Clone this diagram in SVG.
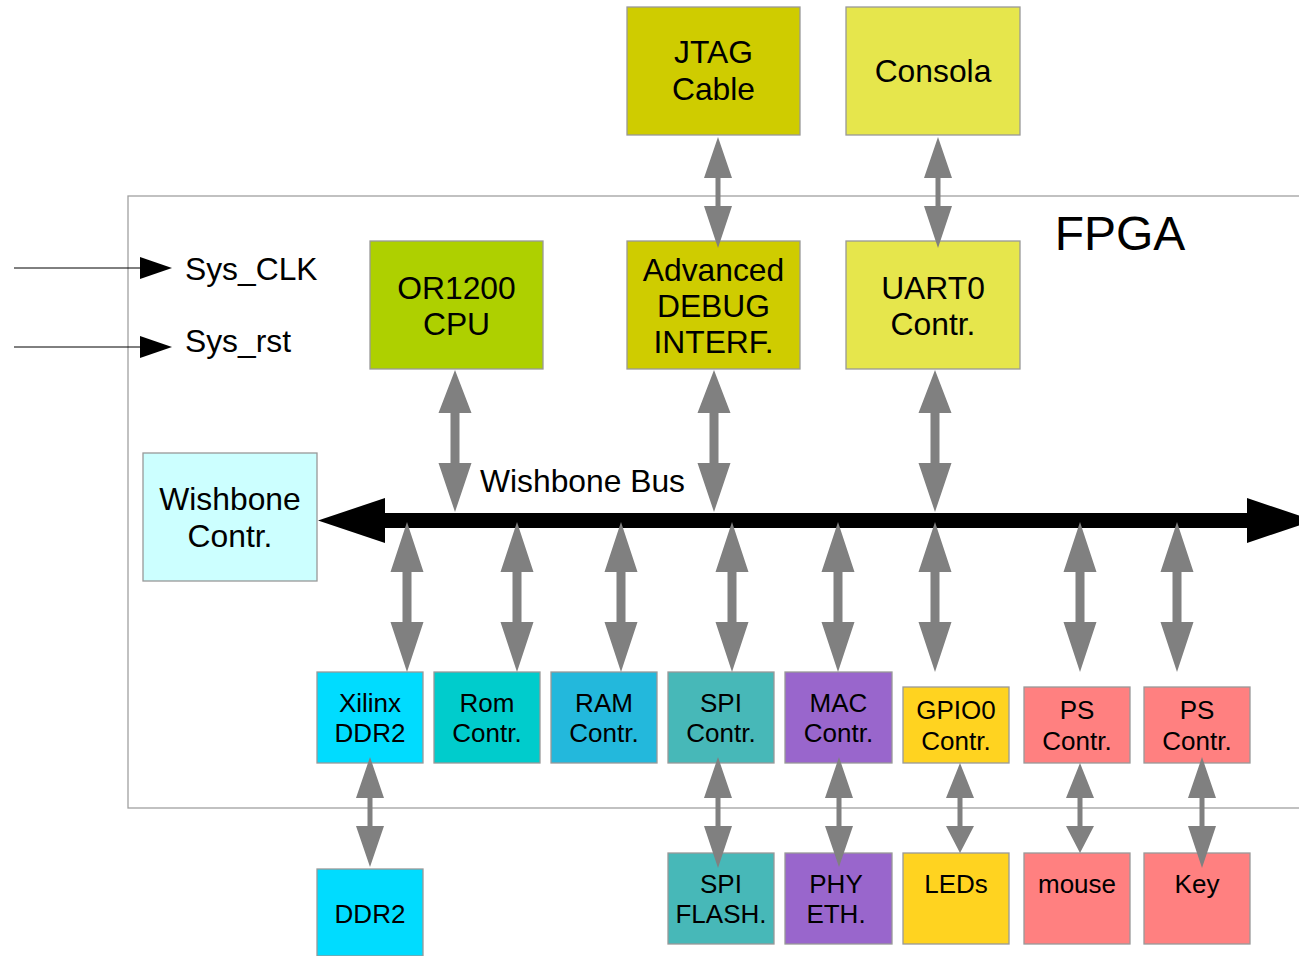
<svg xmlns="http://www.w3.org/2000/svg" width="1299" height="956" viewBox="0 0 1299 956">
<style>
text{font-family:"Liberation Sans",Arial,sans-serif;fill:#000;text-anchor:middle}
.t{font-size:31.8px}
.s{font-size:26px}
.box{stroke:#999;stroke-width:1.3}
.ga{fill:#808080}
</style>
<rect x="0" y="0" width="1299" height="956" fill="#fff"/>
<g id="fpga">
<rect x="128" y="196" width="1200" height="612" fill="none" stroke="#a0a0a0" stroke-width="1.3"/>
<text x="1120" y="250" style="font-size:48px">FPGA</text>
</g>
<g id="sys-clk">
<text x="185" y="280" class="t" style="text-anchor:start">Sys_CLK</text>
</g>
<g id="sys-rst">
<text x="185" y="352" class="t" style="text-anchor:start">Sys_rst</text>
</g>
<g id="jtag"><rect class="box" x="627" y="7" width="173" height="128" fill="#cfcc00"/>
<text class="t" x="713.5" y="63">JTAG</text><text class="t" x="713.5" y="100">Cable</text></g>
<g id="consola"><rect class="box" x="846" y="7" width="174" height="128" fill="#e6e64c"/>
<text class="t" x="933" y="82">Consola</text></g>
<g id="cpu"><rect class="box" x="370" y="241" width="173" height="128" fill="#aed000"/>
<text class="t" x="456.5" y="299">OR1200</text><text class="t" x="456.5" y="335">CPU</text></g>
<g id="debug"><rect class="box" x="627" y="241" width="173" height="128" fill="#cfcc00"/>
<text class="t" x="713.5" y="281">Advanced</text><text class="t" x="713.5" y="317">DEBUG</text><text class="t" x="713.5" y="353">INTERF.</text></g>
<g id="uart"><rect class="box" x="846" y="241" width="174" height="128" fill="#e6e64c"/>
<text class="t" x="933" y="299">UART0</text><text class="t" x="933" y="335">Contr.</text></g>
<g id="wb-contr"><rect class="box" x="143" y="453" width="174" height="128" fill="#ccffff"/>
<text class="t" x="230" y="510">Wishbone</text><text class="t" x="230" y="547">Contr.</text></g>
<g id="xilinx"><rect class="box" x="317" y="672" width="106" height="91" fill="#00dcff"/>
<text class="s" x="370" y="712">Xilinx</text><text class="s" x="370" y="742">DDR2</text></g>
<g id="rom"><rect class="box" x="434" y="672" width="106" height="91" fill="#00cccc"/>
<text class="s" x="487" y="712">Rom</text><text class="s" x="487" y="742">Contr.</text></g>
<g id="ram"><rect class="box" x="551" y="672" width="106" height="91" fill="#23b8dc"/>
<text class="s" x="604" y="712">RAM</text><text class="s" x="604" y="742">Contr.</text></g>
<g id="spi"><rect class="box" x="668" y="672" width="106" height="91" fill="#47b8b8"/>
<text class="s" x="721" y="712">SPI</text><text class="s" x="721" y="742">Contr.</text></g>
<g id="mac"><rect class="box" x="785" y="672" width="107" height="91" fill="#9966cc"/>
<text class="s" x="838.5" y="712">MAC</text><text class="s" x="838.5" y="742">Contr.</text></g>
<g id="gpio"><rect class="box" x="903" y="687" width="106" height="76" fill="#ffd320"/>
<text class="s" x="956" y="719">GPIO0</text><text class="s" x="956" y="750">Contr.</text></g>
<g id="ps1"><rect class="box" x="1024" y="687" width="106" height="76" fill="#ff8080"/>
<text class="s" x="1077" y="719">PS</text><text class="s" x="1077" y="750">Contr.</text></g>
<g id="ps2"><rect class="box" x="1144" y="687" width="106" height="76" fill="#ff8080"/>
<text class="s" x="1197" y="719">PS</text><text class="s" x="1197" y="750">Contr.</text></g>
<g id="ddr2"><rect class="box" x="317" y="869" width="106" height="87" fill="#00dcff"/>
<text class="s" x="370" y="923">DDR2</text></g>
<g id="spi-flash"><rect class="box" x="668" y="853" width="106" height="91" fill="#47b8b8"/>
<text class="s" x="721" y="893">SPI</text><text class="s" x="721" y="923">FLASH.</text></g>
<g id="phy"><rect class="box" x="785" y="853" width="107" height="91" fill="#9966cc"/>
<text class="s" x="836" y="893">PHY</text><text class="s" x="836" y="923">ETH.</text></g>
<g id="leds"><rect class="box" x="903" y="853" width="106" height="91" fill="#ffd320"/>
<text class="s" x="956" y="893">LEDs</text></g>
<g id="mouse"><rect class="box" x="1024" y="853" width="106" height="91" fill="#ff8080"/>
<text class="s" x="1077" y="893">mouse</text></g>
<g id="key"><rect class="box" x="1144" y="853" width="106" height="91" fill="#ff8080"/>
<text class="s" x="1197" y="893">Key</text></g>
<g id="connectors">
<line x1="14" y1="268" x2="140" y2="268" stroke="#000" stroke-width="1"/>
<polygon points="140,257 172,268 140,279" fill="#000"/>
<line x1="14" y1="347" x2="140" y2="347" stroke="#000" stroke-width="1"/>
<polygon points="140,336 172,347 140,358" fill="#000"/>
<g id="bus">
<rect x="380" y="513" width="875" height="15" fill="#000"/>
<polygon points="318,520.5 385,498 385,543" fill="#000"/>
<polygon points="1247,498 1314,520.5 1247,543" fill="#000"/>
<text class="t" x="582.5" y="492">Wishbone Bus</text>
</g>
<path class="ga" d="M455,370 L471.5,413 L459.5,413 L459.5,463 L471.5,463 L455,512 L438.5,463 L450.5,463 L450.5,413 L438.5,413 Z"/>
<path class="ga" d="M714,370 L730.5,413 L718.5,413 L718.5,463 L730.5,463 L714,512 L697.5,463 L709.5,463 L709.5,413 L697.5,413 Z"/>
<path class="ga" d="M935,370 L951.5,413 L939.5,413 L939.5,463 L951.5,463 L935,512 L918.5,463 L930.5,463 L930.5,413 L918.5,413 Z"/>
<path class="ga" d="M407,522 L423.5,572 L411.5,572 L411.5,622 L423.5,622 L407,672 L390.5,622 L402.5,622 L402.5,572 L390.5,572 Z"/>
<path class="ga" d="M517,522 L533.5,572 L521.5,572 L521.5,622 L533.5,622 L517,672 L500.5,622 L512.5,622 L512.5,572 L500.5,572 Z"/>
<path class="ga" d="M621,522 L637.5,572 L625.5,572 L625.5,622 L637.5,622 L621,672 L604.5,622 L616.5,622 L616.5,572 L604.5,572 Z"/>
<path class="ga" d="M732,522 L748.5,572 L736.5,572 L736.5,622 L748.5,622 L732,672 L715.5,622 L727.5,622 L727.5,572 L715.5,572 Z"/>
<path class="ga" d="M838,522 L854.5,572 L842.5,572 L842.5,622 L854.5,622 L838,672 L821.5,622 L833.5,622 L833.5,572 L821.5,572 Z"/>
<path class="ga" d="M935,522 L951.5,572 L939.5,572 L939.5,622 L951.5,622 L935,672 L918.5,622 L930.5,622 L930.5,572 L918.5,572 Z"/>
<path class="ga" d="M1080,522 L1096.5,572 L1084.5,572 L1084.5,622 L1096.5,622 L1080,672 L1063.5,622 L1075.5,622 L1075.5,572 L1063.5,572 Z"/>
<path class="ga" d="M1177,522 L1193.5,572 L1181.5,572 L1181.5,622 L1193.5,622 L1177,672 L1160.5,622 L1172.5,622 L1172.5,572 L1160.5,572 Z"/>
<path class="ga" d="M370,757 L384,798 L372.5,798 L372.5,826 L384,826 L370,867 L356,826 L367.5,826 L367.5,798 L356,798 Z"/>
<path class="ga" d="M718,757 L732,798 L720.5,798 L720.5,826 L732,826 L718,868 L704,826 L715.5,826 L715.5,798 L704,798 Z"/>
<path class="ga" d="M839,757 L853,798 L841.5,798 L841.5,826 L853,826 L839,867 L825,826 L836.5,826 L836.5,798 L825,798 Z"/>
<path class="ga" d="M960,763 L974,798 L962.5,798 L962.5,826 L974,826 L960,853 L946,826 L957.5,826 L957.5,798 L946,798 Z"/>
<path class="ga" d="M1080,763 L1094,798 L1082.5,798 L1082.5,826 L1094,826 L1080,853 L1066,826 L1077.5,826 L1077.5,798 L1066,798 Z"/>
<path class="ga" d="M1202,757 L1216,798 L1204.5,798 L1204.5,826 L1216,826 L1202,868 L1188,826 L1199.5,826 L1199.5,798 L1188,798 Z"/>
<path class="ga" d="M718,137 L732,178 L720.5,178 L720.5,206 L732,206 L718,248 L704,206 L715.5,206 L715.5,178 L704,178 Z"/>
<path class="ga" d="M938,137 L952,178 L940.5,178 L940.5,206 L952,206 L938,248 L924,206 L935.5,206 L935.5,178 L924,178 Z"/>
</g>
</svg>
